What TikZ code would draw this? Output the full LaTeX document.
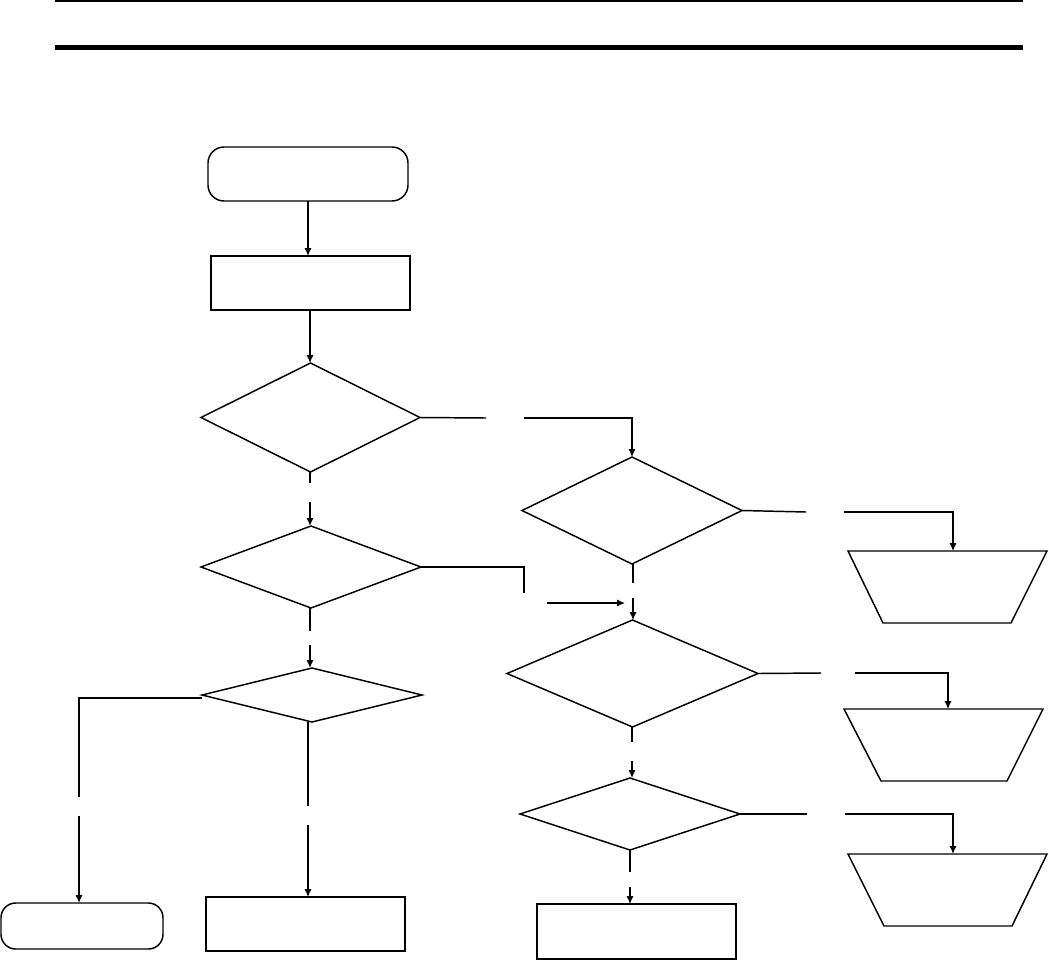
\documentclass[tikz,border=0pt]{standalone}
\usetikzlibrary{shapes.geometric,arrows.meta}
\begin{document}
\begin{tikzpicture}[x=0.75pt,y=-0.75pt,
  line width=1.1pt,
  arr/.style={-{Latex[length=6pt,width=5.5pt]}},
  termbox/.style={draw,rectangle,rounded corners=12pt,inner sep=0pt,outer sep=0pt},
  procbox/.style={draw,rectangle,inner sep=0pt,outer sep=0pt},
  decbox/.style={draw,diamond,inner sep=0pt,outer sep=0pt}]
\useasboundingbox (0,0) rectangle (1049,960);
% header rules
\draw[line width=1.5pt] (55,1) -- (1023,1);
\draw[line width=4.1pt] (55,47.5) -- (1023,47.5);
% nodes
\node[termbox,minimum width=150pt,minimum height=40.5pt] (start) at (308,174) {};
\node[procbox,minimum width=149.25pt,minimum height=40.5pt] (p1) at (310.5,283) {};
\node[decbox,minimum width=164.25pt,minimum height=81.75pt] (d1) at (310.5,417.5) {};
\node[decbox,minimum width=165pt,minimum height=61.5pt] (db) at (311,567) {};
\node[decbox,minimum width=165pt,minimum height=40.5pt] (dc) at (312,695) {};
\node[decbox,minimum width=165pt,minimum height=80.25pt] (d2) at (632,510.5) {};
\node[decbox,minimum width=188.25pt,minimum height=80.25pt] (d3) at (632.5,673.5) {};
\node[decbox,minimum width=165pt,minimum height=54pt] (d4) at (630,814) {};
\node[termbox,rounded corners=11pt,minimum width=121.5pt,minimum height=34.5pt] (endt) at (82,926) {};
\node[procbox,minimum width=149.25pt,minimum height=40.5pt] (boxc) at (305.5,924) {};
\node[procbox,minimum width=149.25pt,minimum height=41.25pt] (box4) at (636.5,931.5) {};
% trapezoids
\draw (848,551) -- (1047,551) -- (1011,623) -- (883,623) -- cycle;
\coordinate (t1) at (953,551);
\draw (844,709) -- (1043,709) -- (1007,781) -- (881,781) -- cycle;
\coordinate (t2) at (948,709);
\draw (848,854) -- (1047,854) -- (1012,926) -- (884,926) -- cycle;
\coordinate (t3) at (953,854);
% gap coordinates
\coordinate (g0) at (310,300);
\coordinate (g1a) at (486,418);  \coordinate (g1b) at (524,418);
\coordinate (g2a) at (310,483);  \coordinate (g2b) at (310,502);
\coordinate (g3a) at (524,593);  \coordinate (g3b) at (547,603); \coordinate (g3c) at (625,603);
\coordinate (g4a) at (633,583);  \coordinate (g4b) at (633,598);
\coordinate (g5a) at (806,512);  \coordinate (g5b) at (844,512);
\coordinate (g6a) at (310,631);  \coordinate (g6b) at (310,645);
\coordinate (g7s) at (202,698);  \coordinate (g7a) at (79,797);  \coordinate (g7b) at (79,816);
\coordinate (g8a) at (308,806);  \coordinate (g8b) at (308,825);
\coordinate (g9a) at (821,673);  \coordinate (g9b) at (855,673);
\coordinate (g10a) at (632,742); \coordinate (g10b) at (632,761);
\coordinate (g11a) at (807,814); \coordinate (g11b) at (845,814);
\coordinate (g12a) at (630,872); \coordinate (g12b) at (630,887);
% connectors
\draw[arr] (start.south) -- (start.south |- p1.north);
\draw[arr] (g0 |- p1.south) -- (g0 |- d1.north);
\draw (d1.east) -- (g1a);
\draw[arr] (g1b) -- (g1b -| d2.north) -- (d2.north);
\draw (g2a |- d1.south) -- (g2a);
\draw[arr] (g2b) -- (g2b |- db.north);
\draw (db.east) -- (db.east -| g3a) -- (g3a);
\draw[arr] (g3b) -- (g3c);
\draw (g4a |- d2.south) -- (g4a);
\draw[arr] (g4b) -- (g4b |- d3.north);
\draw (d2.east) -- (g5a);
\draw[arr] (g5b) -- (g5b -| t1) -- (t1);
\draw (g6a |- db.south) -- (g6a);
\draw[arr] (g6b) -- (g6b |- dc.north);
\draw (g7s) -- (g7s -| g7a) -- (g7a);
\draw[arr] (g7b) -- (g7b |- endt.north);
\draw (g8a |- dc.south) -- (g8a);
\draw[arr] (g8b) -- (g8b |- boxc.north);
\draw (d3.east) -- (g9a);
\draw[arr] (g9b) -- (g9b -| t2) -- (t2);
\draw (g10a |- d3.south) -- (g10a);
\draw[arr] (g10b) -- (g10b |- d4.north);
\draw (d4.east) -- (g11a);
\draw[arr] (g11b) -- (g11b -| t3) -- (t3);
\draw (d4.south) -- (g12a);
\draw[arr] (g12b) -- (g12b |- box4.north);
\end{tikzpicture}
\end{document}
